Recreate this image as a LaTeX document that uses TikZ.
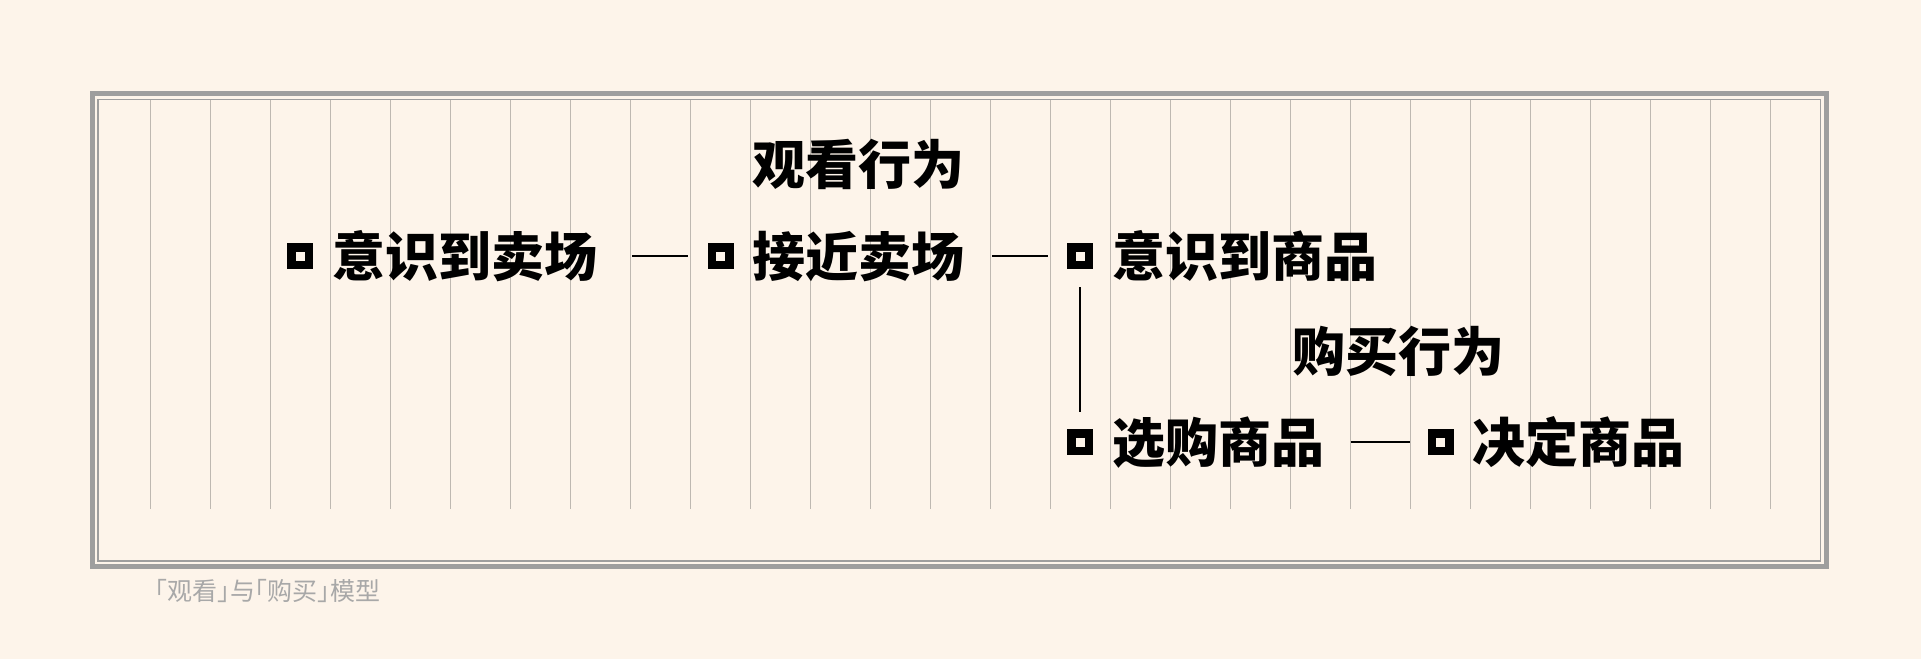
\documentclass[tikz,border=0pt]{standalone}
\usepackage{fontspec}
\usepackage{xcolor}
\usepackage{tikz}
\usetikzlibrary{positioning}
\newfontfamily\cjk{Noto Sans CJK SC}
\newfontfamily\cjkcap[RawFeature=+halt]{Noto Sans CJK SC}
\definecolor{paper}{HTML}{FDF4EA}
\definecolor{framegray}{HTML}{9E9E9E}
\definecolor{rulegray}{HTML}{BEB8B1}
\definecolor{capgray}{HTML}{A8A8A8}

\begin{document}
\begin{tikzpicture}[
x=0.5pt, y=-0.5pt,
node distance=9.5pt,
stage/.style={font=\cjk\bfseries\fontsize{26.5pt}{30pt}\selectfont, inner sep=0pt, outer sep=0pt, text height=23.3pt, text depth=3.2pt},
marker/.style={draw=black, fill=paper, line width=4.25pt, minimum size=8.75pt, inner sep=0pt, outer sep=2.125pt},
caption/.style={font=\cjkcap\fontsize{12.5pt}{14pt}\selectfont, text=capgray, inner sep=0pt, text height=11pt, text depth=1.5pt},
link/.style={line width=0.9pt},
frame/.style={draw=framegray},
rule/.style={draw=rulegray, line width=0.5pt}
]
\useasboundingbox (0,0) rectangle (1921,659);
\fill[paper] (0,0) rectangle (1921,659);

% ruled paper
\foreach \x in {150,210,...,1770}
  \draw[rule] (\x,100) -- (\x,509);
\draw[frame, line width=2.5pt] (92.5,93.5) rectangle (1826,566);
\draw[frame, line width=0.75pt] (98,99.3) rectangle (1820.5,561);

% watching
\node[marker] (m1) at (300,256) {};
\node[stage, right=of m1] (t1) {意识到卖场};
\node[marker, right=55.25pt of t1] (m2) {};
\node[stage, right=of m2] (t2) {接近卖场};
\node[stage, above=19.5pt of t2] (h1) {观看行为};
\node[marker, right=51.25pt of t2] (m3) {};
\node[stage, right=of m3] (t3) {意识到商品};

% buying
\node[marker, below=80pt of m3] (m4) {};
\node[stage, right=of m4] (t4) {选购商品};
\node[marker, right=51.75pt of t4] (m5) {};
\node[stage, right=of m5] (t5) {决定商品};
\node[stage, below right=21pt and 90pt of t3.south west] (h2) {购买行为};

\draw[link, shorten <=17.5pt, shorten >=9.75pt] (t1.east |- m2) -- (m2.west);
\draw[link, shorten <=13.75pt, shorten >=9.5pt] (t2.east |- m3) -- (m3.west);
\draw[link, shorten <=9pt, shorten >=8.5pt] (m3.south) -- (m4.north);
\draw[link, shorten <=13.25pt, shorten >=9pt] (t4.east |- m5) -- (m5.west);

\node[caption] (cap) at (267.5,591) {「观看」与「购买」模型};
\end{tikzpicture}
\end{document}
